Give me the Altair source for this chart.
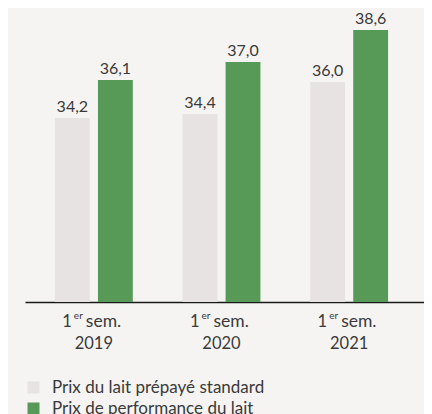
import altair as alt
import pandas as pd

periods = ["2019", "2020", "2021"]
standard = [34.2, 34.4, 36.0]
performance = [36.1, 37.0, 38.6]
series = ["Prix du lait prépayé standard", "Prix de performance du lait"]
colors = ["#e8e3e3", "#579a57"]

rows = []
for p, s, q in zip(periods, standard, performance):
    rows.append({"periode": p, "serie": series[0], "valeur": s})
    rows.append({"periode": p, "serie": series[1], "valeur": q})
df = pd.DataFrame(rows)
lab = pd.DataFrame({"periode": periods})

FONT = "Lato"
TXT = "#3a3a3a"

x = alt.X(
    "periode:N", sort=periods, title=None,
    scale=alt.Scale(paddingInner=0.39, paddingOuter=0.258, align=0.4545),
    axis=alt.Axis(labelAngle=0, ticks=False, domainColor="#1a1a1a", domainWidth=1.5,
                  labelFont=FONT, labelFontSize=16.5, labelColor=TXT,
                  labelBaseline="alphabetic", labelPadding=46, grid=False),
)
y = alt.Y("valeur:Q", scale=alt.Scale(domain=[25, 39.7], zero=False, nice=False), axis=None)
xo = alt.XOffset("serie:N", sort=series, scale=alt.Scale(paddingInner=0.19, paddingOuter=0))

bars = alt.Chart(df).mark_bar().encode(
    x=x, xOffset=xo, y=y, y2=alt.datum(25),
    color=alt.Color(
        "serie:N",
        scale=alt.Scale(domain=series, range=colors),
        legend=alt.Legend(
            title=None, orient="none", legendX=0, legendY=371, direction="vertical",
            symbolType="square", symbolSize=144, symbolStrokeWidth=0,
            labelFont=FONT, labelFontSize=17, labelColor=TXT, labelOffset=10,
            labelLimit=400, rowPadding=3, padding=0,
        ),
    ),
)

vals = alt.Chart(df).transform_calculate(
    lbl="replace(format(datum.valeur, '.1f'), '.', ',')"
).mark_text(font=FONT, fontSize=16, color=TXT, baseline="alphabetic", dy=-6).encode(
    x=x, xOffset=xo, y=y, text="lbl:N"
)

xl = alt.X("periode:N", sort=periods)
one = alt.Chart(lab).mark_text(text="1", align="right", dx=-22, font=FONT, fontSize=16.5,
                               color=TXT, baseline="alphabetic").encode(x=xl, y=alt.value(318.7))
er = alt.Chart(lab).mark_text(text="er", align="left", dx=-20, font=FONT, fontSize=10,
                              color=TXT, baseline="alphabetic").encode(x=xl, y=alt.value(311.3))
sem = alt.Chart(lab).mark_text(text="sem.", align="left", dx=-8, font=FONT, fontSize=17.5,
                               color=TXT, baseline="alphabetic").encode(x=xl, y=alt.value(318.7))

chart = alt.layer(bars, vals, one, er, sem).properties(
    width=399, height=294,
    autosize=alt.AutoSizeParams(type="none"),
    padding={"left": 17, "top": 0, "right": 0, "bottom": 112},
    background="#f5f4f2",
).configure_view(stroke=None)

chart.save("out.html", embed_options={"renderer": "svg", "actions": False})
